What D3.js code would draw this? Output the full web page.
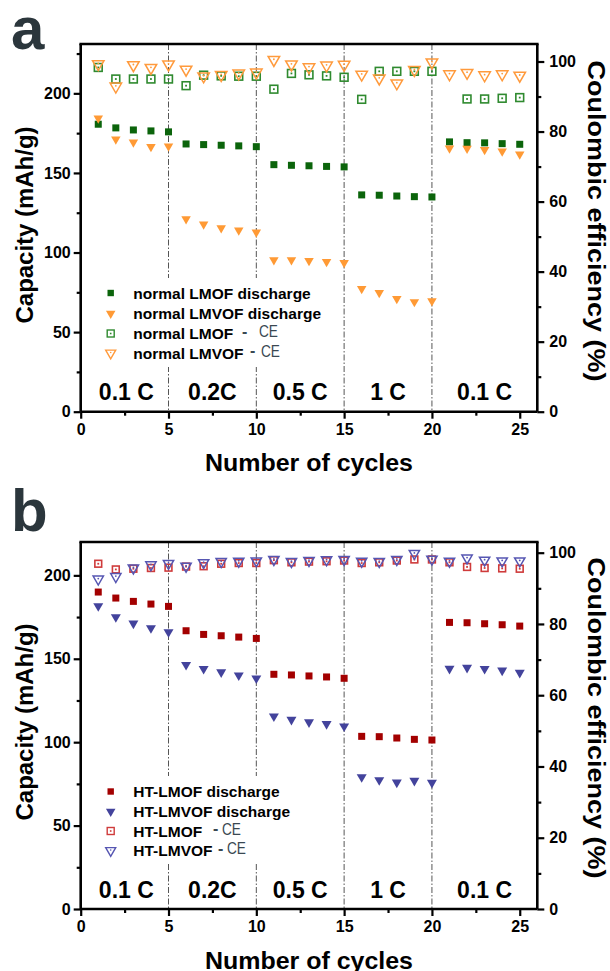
<!DOCTYPE html>
<html><head><meta charset="utf-8">
<script src="https://cdn.jsdelivr.net/npm/d3@7"></script>
<style>html,body{margin:0;padding:0;background:#fff;}svg{display:block;}</style>
</head><body>
<script>
// ---------- data ----------
const cycles = d3.range(1, 26);
const xTicks = [0, 5, 10, 15, 20, 25];
const rateLabels = ["0.1 C", "0.2C", "0.5 C", "1 C", "0.1 C"];
const rateCenters = [2.6, 7.5, 12.5, 17.5, 23.0];
const rateBounds = [5, 10, 15, 20];

const aLMOF = [180.6,178.3,177.0,176.4,175.8,168.2,167.8,167.4,167.0,166.5,155.2,154.8,154.5,154.1,153.8,136.2,136.0,135.5,135.1,134.9,169.5,169.0,168.9,168.4,168.0];
const aLMVOF = [184.4,171.2,169.3,166.5,166.8,121.0,117.7,115.4,114.0,112.7,95.3,95.3,94.9,94.2,93.6,77.2,74.7,70.9,69.0,69.5,165.5,165.3,164.5,163.6,161.8];
const aCE_LMOF = [98.3,95.0,95.0,95.0,95.0,93.1,96.1,95.9,95.8,95.8,92.1,96.6,96.2,95.9,95.5,89.2,97.2,97.2,97.2,97.2,null,89.3,89.3,89.5,89.7];
const aCE_LMVOF = [99.3,92.9,99.0,98.2,99.2,97.7,95.8,96.2,96.6,96.9,100.5,99.2,98.4,98.9,99.1,96.3,95.2,93.8,97.6,99.8,96.4,96.8,96.1,96.4,96.0];

const bLMOF = [190.0,186.4,184.4,182.8,181.4,166.8,164.6,163.8,163.0,162.2,140.7,140.3,139.7,139.1,138.3,103.5,103.3,102.5,101.7,101.3,171.8,171.6,171.0,170.4,169.6];
const bLMVOF = [181.6,175.0,171.2,168.4,166.0,146.4,144.0,142.0,140.1,138.3,115.5,113.5,112.0,110.9,109.5,79.1,77.3,75.9,76.9,75.7,144.1,144.7,144.0,143.0,141.7];
const bCE_LMOF = [96.9,95.3,95.5,95.7,95.8,96.1,96.2,96.9,97.1,97.1,97.9,97.3,97.5,97.6,97.8,97.1,97.3,97.8,98.1,98.1,97.3,96.0,95.7,95.6,95.5];
const bCE_LMVOF = [92.6,93.3,95.7,96.6,97.0,96.2,97.2,97.5,97.6,97.7,98.1,97.5,97.8,98.0,98.1,97.6,97.5,98.1,99.8,98.2,97.6,98.5,97.9,97.7,97.7];

const aLegend = ["normal LMOF discharge", "normal LMVOF discharge", "normal LMOF", "normal LMVOF"];
const bLegend = ["HT-LMOF discharge", "HT-LMVOF discharge", "HT-LMOF", "HT-LMVOF"];
const leftTicks = [0, 50, 100, 150, 200];
const rightTicks = [0, 20, 40, 60, 80, 100];

// ---------- drawing ----------
const W = 610, H = 971;
const FONT = "'Liberation Sans', Arial, Helvetica, sans-serif";
const svg = d3.select("body").append("svg").attr("width", W).attr("height", H)
  .style("font-family", FONT);

const x = d3.scaleLinear().domain([0, 26]).range([80.7, 537.3]);

const panels = [
  {letter: "a", top: 44, bottom: 411.7, yMaxL: 231, yMaxR: 105,
   s1: aLMOF, s2: aLMVOF, c1: aCE_LMOF, c2: aCE_LMVOF, legend: aLegend,
   col1: "#0b640b", col2: "#ff9a35", oc1: "#2f8a2f", oc2: "#ff9a3c",
   openSq: 7.8, openTri: 11.5, fillSq: 7, fillTri: 9.5,
   legendY: [298.5, 319, 339, 358.5], dashX: [[242, 259], [250, 261]],
   legendBox: [96, 278, 240, 89], letterY: 49, yTitleC: 225, rTitleC: 221},
  {letter: "b", top: 542, bottom: 909, yMaxL: 220, yMaxR: 103,
   s1: bLMOF, s2: bLMVOF, c1: bCE_LMOF, c2: bCE_LMVOF, legend: bLegend,
   col1: "#a30000", col2: "#43439c", oc1: "#cf3b3b", oc2: "#5656b2",
   openSq: 6.8, openTri: 10.3, fillSq: 7, fillTri: 10,
   legendY: [797, 817, 836.5, 856], dashX: [[213, 222], [218, 227]],
   legendBox: [96, 776, 240, 86], letterY: 531, yTitleC: 722, rTitleC: 718}
];

function triPath(w) { // downward triangle, centroid at origin
  const h = w * Math.sqrt(3) / 2;
  return `M${-w/2},${-h/3}L${w/2},${-h/3}L0,${2*h/3}Z`;
}

panels.forEach(p => {
  const yL = d3.scaleLinear().domain([0, p.yMaxL]).range([p.bottom, p.top]);
  const yR = d3.scaleLinear().domain([0, p.yMaxR]).range([p.bottom, p.top]);
  const g = svg.append("g");

  // vertical dash-dot separators
  g.selectAll("line.sep").data(rateBounds).join("line")
    .attr("x1", d => x(d)).attr("x2", d => x(d))
    .attr("y1", p.top).attr("y2", p.bottom)
    .attr("stroke", "#555").attr("stroke-width", 1)
    .attr("stroke-dasharray", "6,2,1.5,2");

  // legend background
  g.append("rect").attr("x", p.legendBox[0]).attr("y", p.legendBox[1])
    .attr("width", p.legendBox[2]).attr("height", p.legendBox[3]).attr("fill", "#fff");

  // axes
  const axW = 2.6;
  const bottomAxis = d3.axisBottom(x).tickValues(xTicks).tickSize(7).tickFormat(d3.format("d"));
  const bottomMinor = d3.axisBottom(x).tickValues(d3.range(2.5, 25, 5)).tickSize(4).tickFormat("");
  const leftAxis = d3.axisLeft(yL).tickValues(leftTicks).tickSize(7);
  const leftMinor = d3.axisLeft(yL).tickValues(d3.range(25, p.yMaxL, 50)).tickSize(4).tickFormat("");
  const rightAxis = d3.axisRight(yR).tickValues(rightTicks).tickSize(7);
  const rightMinor = d3.axisRight(yR).tickValues(d3.range(10, 100, 20)).tickSize(4).tickFormat("");

  const styleAxis = sel => {
    sel.select(".domain").attr("stroke", "#000").attr("stroke-width", axW);
    sel.selectAll(".tick line").attr("stroke", "#000").attr("stroke-width", 2.2);
    sel.selectAll(".tick text").attr("fill", "#000").style("font-family", FONT)
      .style("font-weight", "bold").style("font-size", "16px");
  };
  g.append("g").attr("transform", `translate(0,${p.bottom})`).call(bottomMinor).call(styleAxis)
    .select(".domain").remove();
  g.append("g").attr("transform", `translate(${x(0)},0)`).call(leftMinor).call(styleAxis)
    .select(".domain").remove();
  g.append("g").attr("transform", `translate(${x(26)},0)`).call(rightMinor).call(styleAxis)
    .select(".domain").remove();
  const bx = g.append("g").attr("transform", `translate(0,${p.bottom})`).call(bottomAxis).call(styleAxis);
  bx.selectAll(".tick text").attr("y", 12);
  const lx = g.append("g").attr("transform", `translate(${x(0)},0)`).call(leftAxis).call(styleAxis);
  lx.selectAll(".tick text").attr("x", -10);
  const rx = g.append("g").attr("transform", `translate(${x(26)},0)`).call(rightAxis).call(styleAxis);
  rx.selectAll(".tick text").attr("x", 12);
  // top frame
  g.append("line").attr("x1", x(0) - 1.3).attr("x2", x(26) + 1.3)
    .attr("y1", p.top).attr("y2", p.top).attr("stroke", "#000").attr("stroke-width", axW);
  [lx, rx].forEach(a => a.select(".domain").attr("d", `M0,${p.bottom}V${p.top}`));
  bx.select(".domain").attr("d", `M${x(0)},0H${x(26)}`);

  // markers
  const pts = (arr, sc) => cycles.map((c, i) => ({c, v: arr[i]})).filter(d => d.v != null)
    .map(d => ({x: x(d.c), y: sc(d.v)}));

  const oSq = g.append("g");
  pts(p.c1, yR).forEach(d => {
    oSq.append("rect").attr("x", d.x - p.openSq/2).attr("y", d.y - p.openSq/2)
      .attr("width", p.openSq).attr("height", p.openSq)
      .attr("fill", "none").attr("stroke", p.oc1).attr("stroke-width", 1.6);
    oSq.append("rect").attr("x", d.x - 0.9).attr("y", d.y - 0.9).attr("width", 1.8).attr("height", 1.8)
      .attr("fill", p.oc1);
  });
  const oTri = g.append("g");
  pts(p.c2, yR).forEach(d => {
    oTri.append("path").attr("d", triPath(p.openTri)).attr("transform", `translate(${d.x},${d.y})`)
      .attr("fill", "none").attr("stroke", p.oc2).attr("stroke-width", 1.5);
    oTri.append("circle").attr("cx", d.x).attr("cy", d.y - 0.5).attr("r", 0.9).attr("fill", p.oc2);
  });
  g.append("g").selectAll("rect").data(pts(p.s1, yL)).join("rect")
    .attr("x", d => d.x - p.fillSq/2).attr("y", d => d.y - p.fillSq/2)
    .attr("width", p.fillSq).attr("height", p.fillSq).attr("fill", p.col1);
  g.append("g").selectAll("path").data(pts(p.s2, yL)).join("path")
    .attr("d", triPath(p.fillTri)).attr("transform", d => `translate(${d.x},${d.y})`)
    .attr("fill", p.col2);

  // rate labels
  g.selectAll("text.rate").data(rateLabels).join("text")
    .attr("x", (d, i) => x(rateCenters[i])).attr("y", p.bottom - 11.5)
    .attr("text-anchor", "middle").style("font-weight", "bold").style("font-size", "23px")
    .attr("fill", "#000").text(d => d);

  // legend
  const lg = g.append("g");
  const mx = 110.7, tx = 133.3;
  p.legend.forEach((t, i) => {
    const yy = p.legendY[i];
    const cy = yy - 5.5;
    if (i === 0) lg.append("rect").attr("x", mx - 3.2).attr("y", cy - 3.2).attr("width", 6.4).attr("height", 6.4).attr("fill", p.col1);
    if (i === 1) lg.append("path").attr("d", triPath(9.5)).attr("transform", `translate(${mx},${cy})`).attr("fill", p.col2);
    if (i === 2) {
      lg.append("rect").attr("x", mx - 3.5).attr("y", cy - 3.5).attr("width", 7).attr("height", 7)
        .attr("fill", "none").attr("stroke", p.oc1).attr("stroke-width", 1.4);
      lg.append("rect").attr("x", mx - 0.8).attr("y", cy - 0.8).attr("width", 1.6).attr("height", 1.6).attr("fill", p.oc1);
    }
    if (i === 3) {
      lg.append("path").attr("d", triPath(10)).attr("transform", `translate(${mx},${cy})`)
        .attr("fill", "none").attr("stroke", p.oc2).attr("stroke-width", 1.4);
      lg.append("circle").attr("cx", mx).attr("cy", cy - 0.5).attr("r", 0.8).attr("fill", p.oc2);
    }
    lg.append("text").attr("x", tx).attr("y", yy).style("font-weight", "bold").style("font-size", "15.5px")
      .attr("fill", "#000").text(t);
    if (i >= 2) {
      const dx = p.dashX[i - 2];
      lg.append("text").attr("x", dx[0]).attr("y", yy - 2.5).style("font-size", "16px").style("font-weight", "bold")
        .attr("fill", "#3a4852").text("-");
      lg.append("text").attr("x", dx[1]).attr("y", yy - 2).style("font-size", "17px")
        .attr("fill", "#3a4852").attr("textLength", 19).attr("lengthAdjust", "spacingAndGlyphs").text("CE");
    }
  });

  // titles
  g.append("text").attr("x", 309).attr("y", p.bottom + 59.5).attr("text-anchor", "middle")
    .style("font-weight", "bold").style("font-size", "24px").attr("fill", "#000")
    .attr("textLength", 208).attr("lengthAdjust", "spacingAndGlyphs").text("Number of cycles");
  g.append("text").attr("transform", `translate(33,${p.yTitleC}) rotate(-90)`).attr("text-anchor", "middle")
    .style("font-weight", "bold").style("font-size", "23px").attr("fill", "#000")
    .attr("textLength", 197).attr("lengthAdjust", "spacingAndGlyphs").text("Capacity (mAh/g)");
  g.append("text").attr("transform", `translate(587.5,${p.rTitleC}) rotate(90)`).attr("text-anchor", "middle")
    .style("font-weight", "bold").style("font-size", "23px").attr("fill", "#000")
    .attr("textLength", 321).attr("lengthAdjust", "spacingAndGlyphs").text("Coulombic efficiency (%)");

  // panel letter
  g.append("text").attr("x", 11).attr("y", p.letterY).style("font-weight", "bold").style("font-size", "60px")
    .attr("fill", "#2b363c").text(p.letter);
});
</script>
</body></html>
